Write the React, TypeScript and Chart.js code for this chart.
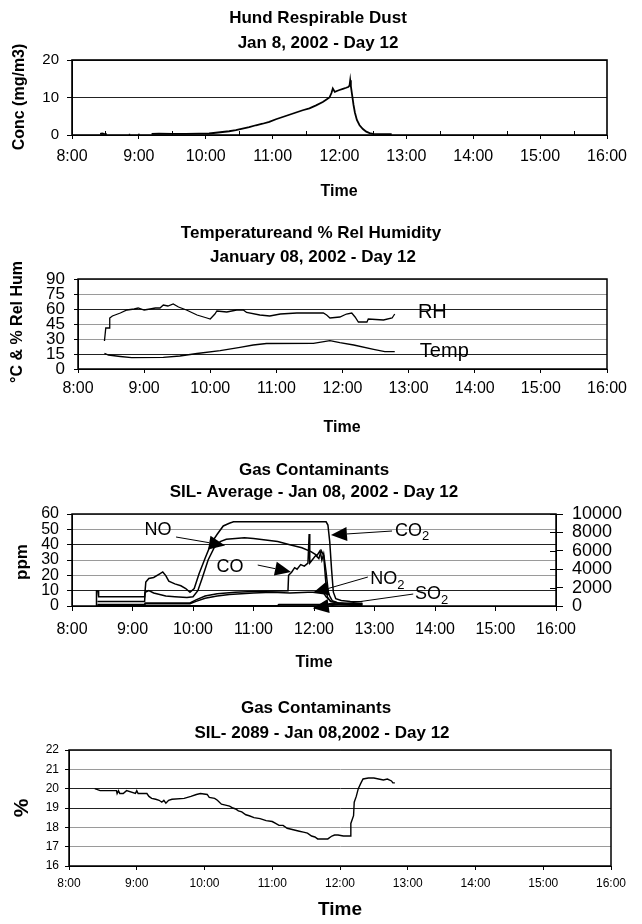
import React, { useEffect, useRef } from 'react';
import { Chart, registerables } from 'chart.js';

Chart.register(...registerables);

const FONT = '"Liberation Sans", Arial, Helvetica, sans-serif';

// ---------- DATA (time in decimal hours, value) ----------
const hourTicks = [8, 9, 10, 11, 12, 13, 14, 15, 16];
const halfHourTicks = [8.5, 9.5, 10.5, 11.5, 12.5, 13.5, 14.5, 15.5];

// Chart 1: Hund respirable dust (mg/m3)
const dustSeries: [number, number | null][] = [
  [8.42, 0.3], [8.45, 0.4], [8.48, 0.3], [8.52, 0.2], [8.53, null],
  [8.85, 0.1], [8.87, 0.1], [8.88, null],
  [8.99, 0.1], [9.01, 0.15], [9.02, null],
  [9.19, 0.3], [9.3, 0.35], [9.5, 0.3], [9.7, 0.3], [9.9, 0.35], [10.05, 0.4],
  [10.15, 0.6], [10.25, 0.8], [10.35, 1.0], [10.45, 1.3], [10.55, 1.7], [10.65, 2.1],
  [10.75, 2.6], [10.85, 3.0], [10.95, 3.5], [11.05, 4.2], [11.15, 4.8], [11.25, 5.4],
  [11.35, 6.0], [11.45, 6.6], [11.55, 7.1], [11.65, 7.9], [11.75, 8.8], [11.8, 9.4],
  [11.85, 10.0], [11.88, 11.2], [11.9, 12.4], [11.93, 11.5], [11.97, 11.8], [12.0, 12.0],
  [12.05, 12.3], [12.1, 12.6], [12.13, 12.8], [12.15, 13.2], [12.16, 14.6], [12.17, 13.0],
  [12.19, 10.5], [12.21, 8.0], [12.23, 6.0], [12.26, 4.0], [12.3, 2.6], [12.35, 1.6],
  [12.4, 0.9], [12.45, 0.5], [12.5, 0.3], [12.6, 0.25], [12.7, 0.25], [12.78, 0.25],
];

// Chart 2: relative humidity (%) and temperature (°C)
const rhSeries: [number, number][] = [
  [8.40, 28], [8.42, 41], [8.47, 41], [8.48, 51], [8.52, 53], [8.56, 54], [8.64, 56],
  [8.74, 59], [8.85, 60], [8.91, 61], [9.0, 59], [9.09, 60], [9.17, 61], [9.24, 61],
  [9.29, 64], [9.36, 63], [9.44, 65], [9.52, 62], [9.64, 59], [9.8, 54], [9.95, 51],
  [10.0, 50], [10.07, 55], [10.1, 58], [10.25, 57], [10.4, 59], [10.5, 59], [10.55, 56.5],
  [10.75, 54], [10.9, 53], [11.06, 55], [11.31, 56], [11.56, 56], [11.71, 56], [11.76, 54],
  [11.81, 51], [11.96, 52], [12.06, 55], [12.14, 56], [12.19, 52], [12.24, 47], [12.37, 47],
  [12.39, 50], [12.62, 49], [12.75, 51], [12.79, 55],
];
const tempSeries: [number, number][] = [
  [8.40, 15.7], [8.46, 14], [8.64, 12.5], [8.81, 11.3], [9.29, 11.7], [9.54, 13], [9.8, 15.5],
  [10.15, 18.3], [10.45, 21.7], [10.65, 24], [10.85, 25.5], [11.56, 25.7], [11.81, 28.3],
  [11.96, 26.3], [12.17, 24], [12.47, 19.7], [12.64, 17.3], [12.79, 17.3],
];

// Chart 3: gas contaminants (ppm); CO2 on right axis
const co2Series: [number, number][] = [
  [8.40, 0], [8.405, 1650], [8.43, 1650], [8.44, 1000], [9.2, 1000], [9.22, 2600], [9.27, 3000],
  [9.35, 3100], [9.45, 3500], [9.5, 3700], [9.55, 3300], [9.6, 2700], [9.7, 2400], [9.8, 2200],
  [9.88, 1900], [9.95, 1500], [10.02, 1900], [10.1, 3500], [10.2, 5200], [10.3, 6800],
  [10.4, 7800], [10.5, 8700], [10.6, 9000], [10.67, 9150], [12.2, 9150], [12.23, 8800],
  [12.26, 7000], [12.29, 4000], [12.32, 1500], [12.36, 800], [12.45, 600], [12.6, 500], [12.8, 450],
];
const noSeries: [number, number][] = [
  [8.42, 3], [9.2, 3], [9.21, 9], [9.27, 10], [9.35, 8.5], [9.45, 7.5], [9.55, 6.5], [9.7, 6],
  [9.9, 5.5], [10.0, 6], [10.08, 10], [10.15, 18], [10.25, 30], [10.35, 38], [10.45, 42],
  [10.55, 43.5], [10.7, 44], [10.85, 44.5], [11.0, 44], [11.2, 43], [11.4, 42], [11.6, 40],
  [11.8, 38], [11.95, 35.5], [12.05, 33], [12.1, 36], [12.13, 30], [12.16, 34], [12.2, 22],
  [12.24, 8], [12.3, 3.5], [12.4, 2], [12.6, 1.5], [12.8, 1.5],
];
const coSeries: [number, number][] = [
  [8.42, 1], [9.2, 1], [9.21, 2], [9.95, 2], [10.05, 4], [10.2, 6.5], [10.4, 8], [10.7, 9],
  [11.0, 9.5], [11.57, 10], [11.58, 20], [11.63, 22], [11.68, 25], [11.72, 24], [11.78, 27],
  [11.84, 26], [11.9, 28], [11.92, 47], [11.93, 28], [11.97, 30], [12.03, 33], [12.08, 31],
  [12.12, 36], [12.16, 33], [12.19, 18], [12.22, 6], [12.27, 3], [12.4, 2], [12.8, 1.5],
];
const no2Series: [number, number][] = [
  [8.42, 0.5], [9.2, 0.5], [9.21, 1.5], [9.95, 1.5], [10.05, 3], [10.2, 5], [10.4, 6.5],
  [10.6, 7.5], [10.8, 8], [11.0, 8.5], [11.3, 9], [11.6, 8.5], [11.9, 9], [12.15, 9],
  [12.2, 6], [12.28, 3], [12.4, 2], [12.6, 1], [12.8, 1],
];
const so2Series: [number, number][] = [
  [8.42, 0], [11.4, 0], [11.42, 0.8], [12.2, 0.8], [12.28, 1.5], [12.4, 1.2], [12.55, 0.8],
  [12.7, 0.5], [12.8, 0.3],
];

// Chart 4: O2 (%)
const o2Series: [number, number][] = [
  [8.38, 20.0], [8.46, 19.9], [8.70, 19.9], [8.71, 19.75], [8.73, 19.9], [8.75, 19.75],
  [8.8, 19.75], [8.85, 19.9], [8.98, 19.75], [9.0, 19.9], [9.02, 19.75], [9.15, 19.75],
  [9.18, 19.6], [9.22, 19.5], [9.28, 19.45], [9.33, 19.4], [9.37, 19.3], [9.4, 19.4],
  [9.43, 19.25], [9.47, 19.4], [9.52, 19.45], [9.7, 19.5], [9.8, 19.6], [9.88, 19.7],
  [9.94, 19.75], [10.04, 19.7], [10.07, 19.55], [10.15, 19.5], [10.19, 19.4], [10.25, 19.2],
  [10.31, 19.15], [10.37, 19.1], [10.42, 19.0], [10.46, 18.95], [10.5, 18.85], [10.55, 18.8],
  [10.61, 18.65], [10.66, 18.6], [10.73, 18.5], [10.82, 18.45], [10.91, 18.35], [11.0, 18.3],
  [11.05, 18.2], [11.1, 18.1], [11.16, 18.1], [11.22, 17.95], [11.28, 17.9], [11.34, 17.85],
  [11.4, 17.8], [11.46, 17.75], [11.52, 17.7], [11.58, 17.55], [11.63, 17.5], [11.67, 17.4],
  [11.75, 17.4], [11.82, 17.4], [11.88, 17.55], [11.92, 17.6], [11.97, 17.6], [12.05, 17.55],
  [12.15, 17.55], [12.16, 18.2], [12.2, 18.6], [12.21, 19.3], [12.24, 19.6], [12.27, 20.0],
  [12.31, 20.3], [12.34, 20.5], [12.42, 20.55], [12.5, 20.55], [12.57, 20.5], [12.64, 20.45],
  [12.7, 20.5], [12.76, 20.4], [12.78, 20.3], [12.81, 20.3],
];

// ---------- helpers ----------
type Txt = {
  text: string; x: number; y: number; font: string;
  align?: CanvasTextAlign; rot?: boolean; data?: boolean; axis?: string; sub?: string;
};
type Arrow = { from: [number, number]; to: [number, number]; axis?: string };
type Deco = {
  texts: Txt[]; arrows?: Arrow[]; minorX?: number[]; innerRight?: boolean; box?: number;
};

const toXY = (s: [number, number | null][]) => s.map(([x, y]) => ({ x, y }));

function makeDeco(cfg: Deco) {
  return {
    id: 'deco',
    afterDraw(chart: any) {
      const { ctx, chartArea: a, scales } = chart;
      ctx.save();
      ctx.strokeStyle = '#000';
      ctx.fillStyle = '#000';
      if (cfg.minorX) {
        ctx.lineWidth = 1;
        for (const v of cfg.minorX) {
          const px = Math.round(scales.x.getPixelForValue(v)) + 0.5;
          ctx.beginPath();
          ctx.moveTo(px, a.bottom);
          ctx.lineTo(px, a.bottom - 4);
          ctx.stroke();
        }
      }
      if (cfg.innerRight && scales.y1) {
        ctx.lineWidth = 1;
        for (const t of scales.y1.ticks) {
          const py = Math.round(scales.y1.getPixelForValue(t.value)) + 0.5;
          ctx.beginPath();
          ctx.moveTo(a.right - 6, py);
          ctx.lineTo(a.right, py);
          ctx.stroke();
        }
      }
      ctx.lineWidth = cfg.box ?? 1.5;
      ctx.strokeRect(a.left, a.top, a.right - a.left, a.bottom - a.top);
      for (const ar of cfg.arrows || []) {
        const ys = scales[ar.axis || 'y'];
        const x1 = scales.x.getPixelForValue(ar.from[0]);
        const y1 = ys.getPixelForValue(ar.from[1]);
        const x2 = scales.x.getPixelForValue(ar.to[0]);
        const y2 = ys.getPixelForValue(ar.to[1]);
        const ang = Math.atan2(y2 - y1, x2 - x1);
        const L = 16, W = 7;
        const bx = x2 - L * Math.cos(ang), by = y2 - L * Math.sin(ang);
        ctx.lineWidth = 1;
        ctx.beginPath();
        ctx.moveTo(x1, y1);
        ctx.lineTo(bx, by);
        ctx.stroke();
        ctx.beginPath();
        ctx.moveTo(x2, y2);
        ctx.lineTo(bx - W * Math.sin(ang), by + W * Math.cos(ang));
        ctx.lineTo(bx + W * Math.sin(ang), by - W * Math.cos(ang));
        ctx.closePath();
        ctx.fill();
      }
      for (const t of cfg.texts) {
        let x = t.x, y = t.y;
        if (t.data) {
          x = scales.x.getPixelForValue(t.x);
          y = scales[t.axis || 'y'].getPixelForValue(t.y);
        }
        ctx.font = t.font;
        ctx.textAlign = t.align || 'center';
        ctx.textBaseline = 'middle';
        if (t.rot) {
          ctx.save();
          ctx.translate(x, y);
          ctx.rotate(-Math.PI / 2);
          ctx.fillText(t.text, 0, 0);
          ctx.restore();
        } else {
          ctx.fillText(t.text, x, y);
          if (t.sub) {
            const w = ctx.measureText(t.text).width;
            ctx.font = `13px ${FONT}`;
            ctx.textAlign = 'left';
            ctx.fillText(t.sub, x + w, y + 6);
          }
        }
      }
      ctx.restore();
    },
  };
}

function xScale(tickLength: number, padding: number, size: number) {
  return {
    type: 'linear',
    min: 8,
    max: 16,
    afterBuildTicks: (s: any) => {
      s.ticks = hourTicks.map((v) => ({ value: v }));
    },
    ticks: {
      autoSkip: false,
      maxRotation: 0,
      padding,
      color: '#000',
      font: { family: FONT, size },
      callback: (v: number) => `${v}:00`,
    },
    grid: { drawOnChartArea: false, drawTicks: true, tickLength, tickColor: '#000' },
    border: { display: true, color: '#000', width: 1 },
    afterFit: (s: any) => { s.height = 30; },
  };
}

function yScale(o: {
  min: number; max: number; step: number; width: number; tickLength: number;
  padding: number; size: number; dark: number[]; position?: string;
}) {
  return {
    type: 'linear',
    position: o.position || 'left',
    min: o.min,
    max: o.max,
    ticks: {
      stepSize: o.step,
      autoSkip: false,
      padding: o.padding,
      color: '#000',
      font: { family: FONT, size: o.size },
      callback: (v: number) => String(v),
    },
    grid: {
      drawTicks: true,
      tickLength: o.tickLength,
      tickColor: '#000',
      lineWidth: 1,
      color: (c: any) => (o.dark.includes(c.tick?.value) ? '#222' : '#9a9a9a'),
    },
    border: { display: true, color: '#000', width: 1 },
    afterFit: (s: any) => { s.width = o.width; },
  };
}

function lineDs(series: [number, number | null][], width: number, axis = 'y') {
  return {
    data: toXY(series),
    borderColor: '#000',
    backgroundColor: '#000',
    borderWidth: width,
    pointRadius: 0,
    fill: false,
    tension: 0,
    spanGaps: false,
    yAxisID: axis,
  };
}

const baseOpts = (padding: any) => ({
  responsive: false,
  animation: false,
  devicePixelRatio: 1,
  parsing: false,
  layout: { padding },
  plugins: { legend: { display: false }, tooltip: { enabled: false }, title: { display: false } },
});

const bold = (n: number) => `bold ${n}px ${FONT}`;
const reg = (n: number) => `${n}px ${FONT}`;

// ---------- chart configs ----------
const configs = [
  {
    top: 0,
    height: 210,
    make: () => ({
      type: 'line',
      data: { datasets: [lineDs(dustSeries, 1.8)] },
      options: {
        ...baseOpts({ left: 0, top: 60, right: 35, bottom: 45 }),
        scales: {
          x: xScale(4, 8, 16),
          y: yScale({ min: 0, max: 20, step: 10, width: 72, tickLength: 5, padding: 8, size: 15, dark: [10, 20] }),
        },
      },
      plugins: [makeDeco({
        minorX: halfHourTicks,
        box: 1.6,
        texts: [
          { text: 'Hund Respirable Dust', x: 318, y: 18, font: bold(17) },
          { text: 'Jan 8, 2002 - Day 12', x: 318, y: 43, font: bold(17) },
          { text: 'Time', x: 339, y: 192, font: bold(16) },
          { text: 'Conc (mg/m3)', x: 20, y: 97, font: bold(16), rot: true },
        ],
      })],
    }),
  },
  {
    top: 210,
    height: 235,
    make: () => ({
      type: 'line',
      data: { datasets: [lineDs(rhSeries, 1.3), lineDs(tempSeries, 1.3)] },
      options: {
        ...baseOpts({ left: 0, top: 69, right: 35, bottom: 46 }),
        scales: {
          x: xScale(4, 6, 16),
          y: yScale({ min: 0, max: 90, step: 15, width: 78, tickLength: 4, padding: 9, size: 17, dark: [15, 60] }),
        },
      },
      plugins: [makeDeco({
        box: 1.5,
        texts: [
          { text: 'Temperatureand % Rel Humidity', x: 311, y: 23, font: bold(17) },
          { text: 'January 08, 2002 - Day 12', x: 313, y: 47, font: bold(17) },
          { text: 'Time', x: 342, y: 218, font: bold(16) },
          { text: '°C & % Rel Hum', x: 18, y: 112, font: bold(16), rot: true },
          { text: 'RH', x: 13.14, y: 57, font: reg(20), align: 'left', data: true },
          { text: 'Temp', x: 13.17, y: 18, font: reg(20), align: 'left', data: true },
        ],
      })],
    }),
  },
  {
    top: 445,
    height: 240,
    make: () => ({
      type: 'line',
      data: {
        datasets: [
          lineDs(co2Series, 1.5, 'y1'),
          lineDs(noSeries, 1.5),
          lineDs(coSeries, 1.5),
          lineDs(no2Series, 1.5),
          lineDs(so2Series, 2),
        ],
      },
      options: {
        ...baseOpts({ left: 0, top: 69, right: 0, bottom: 49 }),
        scales: {
          x: xScale(5, 9, 16),
          y: yScale({ min: 0, max: 60, step: 10, width: 72, tickLength: 5, padding: 8, size: 16, dark: [10, 40] }),
          y1: {
            type: 'linear',
            position: 'right',
            min: 0,
            max: 10000,
            ticks: {
              stepSize: 2000,
              autoSkip: false,
              padding: 9,
              color: '#000',
              font: { family: FONT, size: 18 },
              callback: (v: number) => String(v),
            },
            grid: { drawOnChartArea: false, drawTicks: true, tickLength: 7, tickColor: '#000' },
            border: { display: true, color: '#000', width: 1 },
            afterFit: (s: any) => { s.width = 86; },
          },
        },
      },
      plugins: [makeDeco({
        box: 1.5,
        innerRight: true,
        arrows: [
          { from: [9.72, 45], to: [10.53, 39.5] },
          { from: [13.29, 48.9], to: [12.28, 46.3] },
          { from: [11.07, 26.7], to: [11.62, 22.2] },
          { from: [12.89, 18.9], to: [11.98, 8.5] },
          { from: [13.64, 7.8], to: [11.98, -1.5] },
        ],
        texts: [
          { text: 'Gas Contaminants', x: 314, y: 25, font: bold(17) },
          { text: 'SIL- Average - Jan 08, 2002 - Day 12', x: 314, y: 47, font: bold(17) },
          { text: 'Time', x: 314, y: 218, font: bold(16) },
          { text: 'ppm', x: 22, y: 117, font: bold(17), rot: true },
          { text: 'NO', x: 9.42, y: 49.6, font: reg(18), data: true },
          { text: 'CO', x: 10.61, y: 25.4, font: reg(18), data: true },
          { text: 'CO', x: 13.34, y: 49, font: reg(18), align: 'left', data: true, sub: '2' },
          { text: 'NO', x: 12.93, y: 17.6, font: reg(18), align: 'left', data: true, sub: '2' },
          { text: 'SO', x: 13.67, y: 7.8, font: reg(18), align: 'left', data: true, sub: '2' },
        ],
      })],
    }),
  },
  {
    top: 685,
    height: 239,
    make: () => ({
      type: 'line',
      data: { datasets: [lineDs(o2Series, 1.4)] },
      options: {
        ...baseOpts({ left: 0, top: 65, right: 31, bottom: 28 }),
        scales: {
          x: xScale(4, 6, 12),
          y: yScale({ min: 16, max: 22, step: 1, width: 69, tickLength: 4, padding: 6, size: 12, dark: [20, 19] }),
        },
      },
      plugins: [makeDeco({
        box: 1.5,
        texts: [
          { text: 'Gas Contaminants', x: 316, y: 23, font: bold(17) },
          { text: 'SIL- 2089 - Jan 08,2002 - Day 12', x: 322, y: 48, font: bold(17) },
          { text: 'Time', x: 340, y: 225, font: bold(19) },
          { text: '%', x: 22, y: 123, font: bold(21), rot: true },
        ],
      })],
    }),
  },
];

function ChartCanvas({ top, height, make }: { top: number; height: number; make: () => any }) {
  const ref = useRef<HTMLCanvasElement>(null);
  useEffect(() => {
    if (!ref.current) return;
    const chart = new Chart(ref.current, make());
    return () => chart.destroy();
  }, []);
  return (
    <canvas
      ref={ref}
      width={642}
      height={height}
      style={{ position: 'absolute', left: 0, top, width: 642, height, display: 'block' }}
    />
  );
}

export default function App() {
  return (
    <div style={{ position: 'absolute', left: 0, top: 0, width: 642, height: 924, background: '#fff' }}>
      {configs.map((c, i) => (
        <ChartCanvas key={i} top={c.top} height={c.height} make={c.make} />
      ))}
    </div>
  );
}
